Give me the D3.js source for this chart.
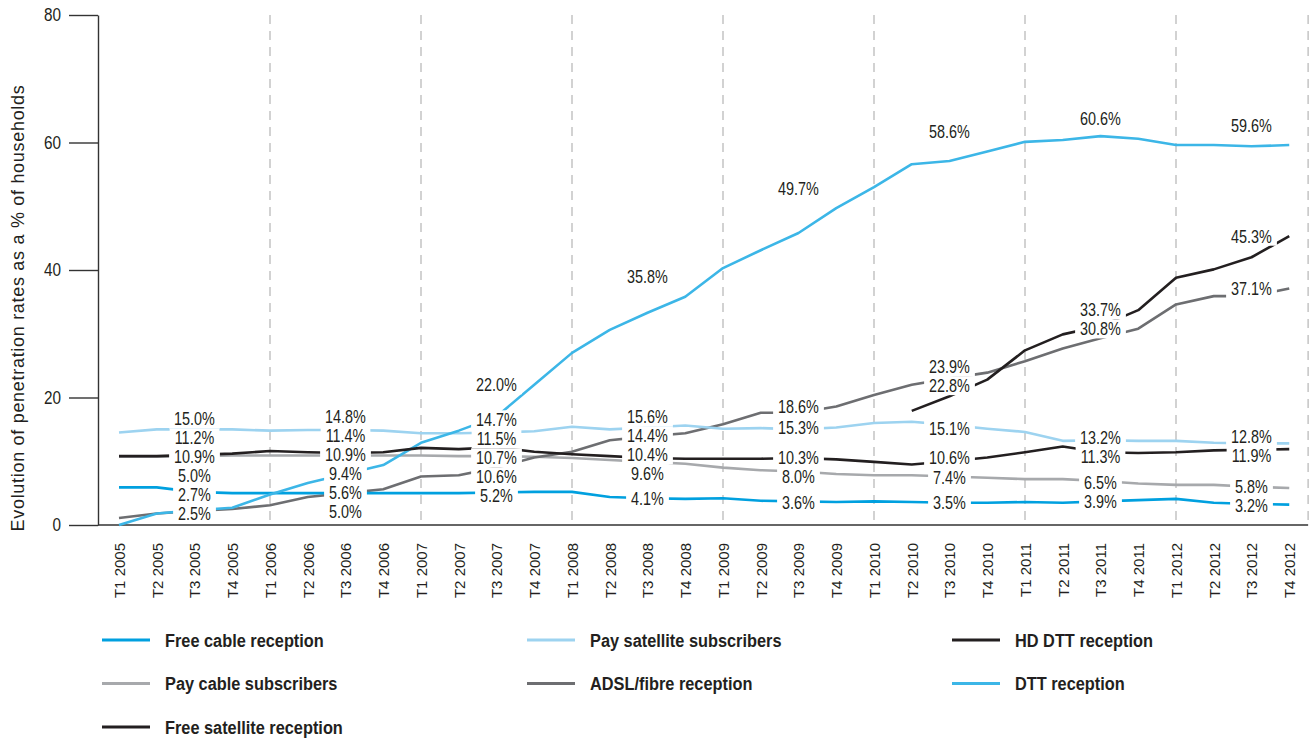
<!DOCTYPE html>
<html>
<head>
<meta charset="utf-8">
<script src="https://cdnjs.cloudflare.com/ajax/libs/d3/7.8.5/d3.min.js"></script>
<style>
    body { margin: 0; background: #fff; }
    text { font-family: "Liberation Sans", Arial, sans-serif; }
</style>
</head>
<body>
<div id="chart"></div>
<script>

// quarter labels: T1 2005 ... T4 2012
var years = [2005, 2006, 2007, 2008, 2009, 2010, 2011, 2012];
var quarterNames = ['T1', 'T2', 'T3', 'T4'];
var quarters = [];
years.forEach(function (yr) {
    quarterNames.forEach(function (q) {
        quarters.push(q + ' ' + yr);
    });
});

var yTicks = [0, 20, 40, 60, 80];

// % of households, one value per quarter
var freeCable = [5.9, 5.9, 5.2, 5.0, 5.0, 5.0, 5.0, 5.0, 5.0, 5.0, 5.1, 5.2, 5.2, 4.4, 4.2, 4.1,
    4.2, 3.8, 3.7, 3.6, 3.7, 3.6, 3.5, 3.5, 3.6, 3.5, 3.7, 3.9, 4.1, 3.5, 3.3, 3.2];
var paySatellite = [14.5, 15.0, 15.0, 15.0, 14.8, 14.9, 14.9, 14.8, 14.4, 14.4, 14.5, 14.7, 15.4, 15.0, 15.3, 15.6,
    15.1, 15.2, 15.0, 15.3, 16.0, 16.2, 15.7, 15.1, 14.6, 13.2, 13.3, 13.2, 13.2, 12.9, 12.8, 12.8];
var hdDtt = [null, null, null, null, null, null, null, null, null, null, null, null, null, null, null, null,
    null, null, null, null, null, 17.9, 20.2, 22.8, 27.4, 29.9, 31.2, 33.7, 38.8, 40.1, 42.0, 45.3];
var payCable = [10.7, 10.7, 10.8, 10.9, 10.9, 10.9, 10.9, 10.9, 10.9, 10.8, 10.8, 10.7, 10.5, 10.2, 9.9, 9.6,
    9.0, 8.6, 8.4, 8.0, 7.8, 7.8, 7.6, 7.4, 7.2, 7.2, 6.9, 6.5, 6.3, 6.3, 6.0, 5.8];
var adslFibre = [1.1, 1.8, 2.2, 2.5, 3.1, 4.4, 5.0, 5.6, 7.6, 7.8, 9.0, 10.6, 11.5, 13.3, 13.9, 14.4,
    15.8, 17.6, 17.6, 18.6, 20.4, 22.0, 23.0, 23.9, 25.7, 27.7, 29.3, 30.8, 34.6, 35.9, 35.9, 37.1];
var dtt = [0.0, 1.8, 2.3, 2.7, 4.8, 6.6, 8.0, 9.4, 12.9, 14.8, 17.0, 22.0, 27.0, 30.6, 33.3, 35.8,
    40.3, 43.1, 45.8, 49.7, 53.0, 56.6, 57.1, 58.6, 60.1, 60.4, 61.0, 60.6, 59.6, 59.6, 59.4, 59.6];
var freeSatellite = [10.8, 10.8, 11.0, 11.2, 11.6, 11.4, 11.3, 11.4, 12.1, 11.9, 12.2, 11.5, 11.1, 10.8, 10.5, 10.4,
    10.4, 10.4, 10.5, 10.3, 9.9, 9.5, 10.0, 10.6, 11.4, 12.3, 11.4, 11.3, 11.4, 11.7, 11.8, 11.9];

// legend order (row by row)
var series = [
    {name: 'Free cable reception', values: freeCable, color: '#00a0df', z: 3},
    {name: 'Pay satellite subscribers', values: paySatellite, color: '#9dd3f0', z: 2},
    {name: 'HD DTT reception', values: hdDtt, color: '#231f20', z: 5},
    {name: 'Pay cable subscribers', values: payCable, color: '#a7a9ac', z: 0},
    {name: 'ADSL/fibre reception', values: adslFibre, color: '#6d6e71', z: 1},
    {name: 'DTT reception', values: dtt, color: '#3cb6e7', z: 4},
    {name: 'Free satellite reception', values: freeSatellite, color: '#231f20', z: 6}
];

var width = 1311;
var height = 739;
var condensed = 0.8;   // no condensed font installed, squeeze Liberation Sans instead

var svg = d3.select('#chart')
    .append('svg')
    .attr('width', width)
    .attr('height', height);

var x = d3.scalePoint()
    .domain(quarters)
    .range([119, 1289.25]);

var step = x.step();

var y = d3.scaleLinear()
    .domain([0, 80])
    .range([525, 15]);

// dashed year separators (at each T1) plus the right edge
var gridX = years.slice(1).map(function (yr) { return x('T1 ' + yr); });
gridX.push(x(quarters[quarters.length - 1]) + step / 2);

svg.append('g')
    .selectAll('line')
    .data(gridX)
    .enter()
    .append('line')
    .attr('x1', function (d) { return d; })
    .attr('x2', function (d) { return d; })
    .attr('y1', y(80))
    .attr('y2', y(0))
    .attr('stroke', '#c4c4c4')
    .attr('stroke-width', 1.5)
    .attr('stroke-dasharray', '9,7');

// y axis
var yAxis = svg.append('g')
    .attr('transform', 'translate(98,0)')
    .call(d3.axisLeft(y).tickValues(yTicks).tickSize(29).tickSizeOuter(0).tickPadding(8));

yAxis.select('.domain').attr('stroke', '#333').attr('stroke-width', 1.4);
yAxis.selectAll('.tick line').attr('stroke', '#333').attr('stroke-width', 1.4);
yAxis.selectAll('.tick text')
    .attr('transform', 'translate(-37,0) scale(0.85,1)')
    .attr('x', 0)
    .style('font-family', '"Liberation Sans", Arial, sans-serif')
    .style('font-size', '18px')
    .attr('fill', '#231f20');

// x axis
var xAxis = svg.append('g')
    .attr('transform', 'translate(0,525)')
    .call(d3.axisBottom(x).tickSize(0));

xAxis.select('.domain').remove();
xAxis.selectAll('.tick text')
    .attr('transform', 'rotate(-90)')
    .attr('x', -18)
    .attr('y', 0)
    .attr('dy', '0.35em')
    .style('text-anchor', 'end')
    .style('font-family', '"Liberation Sans", Arial, sans-serif')
    .style('font-size', '15px')
    .attr('fill', '#231f20');

svg.append('line')
    .attr('x1', 98)
    .attr('x2', x(quarters[quarters.length - 1]) + step / 2)
    .attr('y1', y(0))
    .attr('y2', y(0))
    .attr('stroke', '#333')
    .attr('stroke-width', 1.5);

// y axis title
svg.append('text')
    .attr('transform', 'translate(24,308) rotate(-90)')
    .attr('text-anchor', 'middle')
    .style('font-size', '18px')
    .style('letter-spacing', '0.7px')
    .attr('fill', '#231f20')
    .text('Evolution of penetration rates as a % of households');

// lines
var line = d3.line()
    .defined(function (d) { return d != null; })
    .x(function (d, i) { return x(quarters[i]); })
    .y(function (d) { return y(d); });

svg.append('g')
    .selectAll('path')
    .data(series.slice().sort(function (a, b) { return a.z - b.z; }))
    .enter()
    .append('path')
    .attr('d', function (d) { return line(d.values); })
    .attr('fill', 'none')
    .attr('stroke', function (d) { return d.color; })
    .attr('stroke-width', 2.6)
    .attr('stroke-linejoin', 'round');

// end-of-year value labels, stacked so they don't overlap
var fmt = d3.format('.1f');
var labelGap = 19;
var labelFloor = y(0) - 11;
var labels = [];

years.forEach(function (yr, yi) {
    var group = [];
    series.forEach(function (s) {
        var v = s.values[yi * 4 + 3];
        if (v == null) return;
        group.push({x: x('T3 ' + yr), target: y(v), pos: y(v), text: fmt(v) + '%'});
    });
    group.sort(function (a, b) { return a.target - b.target; });

    // an isolated top label sits above its line
    if (group.length > 1 && group[1].target - group[0].target > 60) {
        group[0].pos -= 20;
        group[0].fixed = true;
    }

    var rest = group.filter(function (d) { return !d.fixed; });
    for (var k = 0; k < 300; k++) {
        for (var i = 0; i < rest.length - 1; i++) {
            var overlap = labelGap - (rest[i + 1].pos - rest[i].pos);
            if (overlap > 0) {
                rest[i].pos -= overlap / 2;
                rest[i + 1].pos += overlap / 2;
            }
        }
        var last = rest[rest.length - 1];
        last.pos = Math.min(last.pos, labelFloor);
    }
    labels = labels.concat(group);
});

var labelG = svg.append('g')
    .selectAll('g')
    .data(labels)
    .enter()
    .append('g')
    .attr('transform', function (d) { return 'translate(' + d.x + ',' + d.pos + ')'; });

labelG.append('rect').attr('fill', '#fff');

labelG.append('text')
    .attr('text-anchor', 'middle')
    .attr('dy', '0.36em')
    .attr('transform', 'scale(' + condensed + ',1)')
    .style('font-size', '18px')
    .attr('fill', '#231f20')
    .text(function (d) { return d.text; });

labelG.each(function () {
    var g = d3.select(this);
    var w = g.select('text').node().getComputedTextLength() * condensed;
    g.select('rect')
        .attr('x', -w / 2 - 5)
        .attr('y', -labelGap / 2)
        .attr('width', w + 10)
        .attr('height', labelGap);
});

// legend
var legend = svg.append('g')
    .selectAll('g')
    .data(series)
    .enter()
    .append('g')
    .attr('transform', function (d, i) {
        return 'translate(' + (102 + (i % 3) * 425) + ',' + (640 + Math.floor(i / 3) * 43.5) + ')';
    });

legend.append('line')
    .attr('x1', 0)
    .attr('x2', 48)
    .attr('stroke', function (d) { return d.color; })
    .attr('stroke-width', 3);

legend.append('text')
    .attr('transform', 'translate(63,0) scale(0.86,1)')
    .attr('dy', '0.36em')
    .style('font-size', '19px')
    .style('font-weight', 'bold')
    .attr('fill', '#231f20')
    .text(function (d) { return d.name; });

</script>
</body>
</html>
